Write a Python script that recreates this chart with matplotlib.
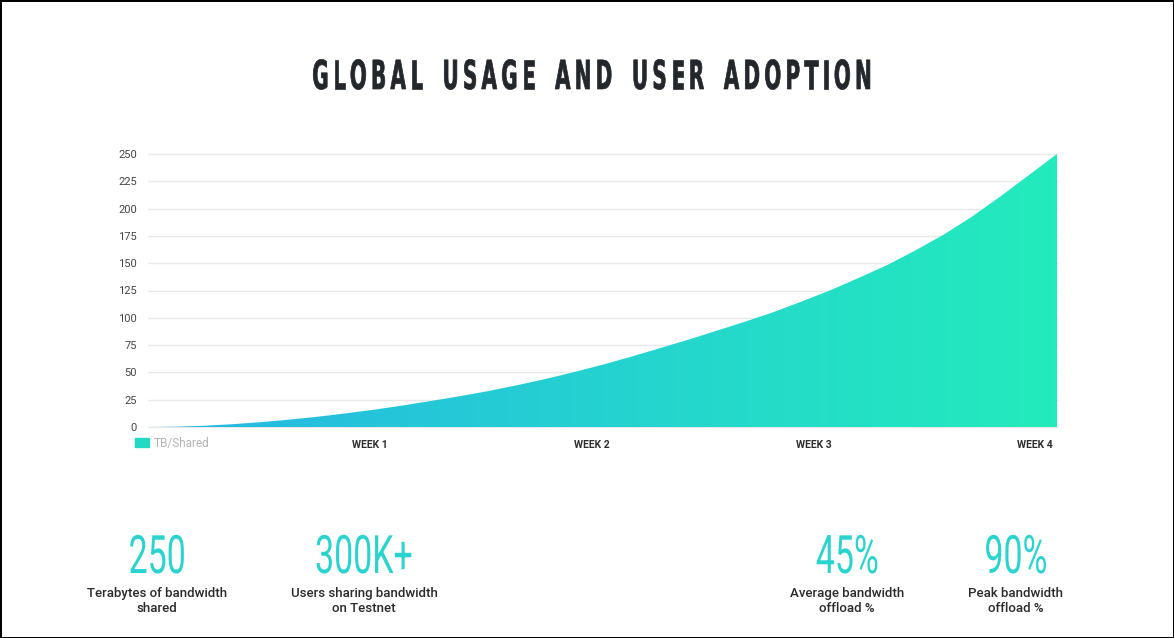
import numpy as np
import matplotlib
matplotlib.use('Agg')
import matplotlib.pyplot as plt
from matplotlib.colors import LinearSegmentedColormap
from matplotlib.patches import Patch, PathPatch
from matplotlib.textpath import TextPath, text_to_path
from matplotlib.font_manager import FontProperties
from matplotlib.transforms import Affine2D

### Data (eighth-week steps)
weeks = np.arange(0, 4.001, 0.125)
tbShared = [0, 0.3, 1.2, 2.6, 4.5, 6.8, 9.5, 12.6,
            16, 19.8, 24, 28.3, 33, 38.3, 44, 50.3,
            57, 64.3, 72, 79.8, 88, 96.3, 105, 114.8,
            125, 136.3, 148, 161.5, 176, 192.5, 211, 230.5,
            250]
weekTicks = [1, 2, 3, 4]
weekLabels = ['WEEK 1', 'WEEK 2', 'WEEK 3', 'WEEK 4']
yTicks = list(range(0, 251, 25))

titleText = 'GLOBAL USAGE AND USER ADOPTION'
statValues = ['250', '300K+', '45%', '90%']
statCaptions = ['Terabytes of bandwidth\nshared', 'Users sharing bandwidth\non Testnet',
                'Average bandwidth\noffload %', 'Peak bandwidth\noffload %']
statCentres = [157, 364, 847, 1016]   # pixel x of each stat block

teal = '#2bd3cf'
gradient = LinearSegmentedColormap.from_list('tb', ['#26b6e4', '#25d2d0', '#23ebbc'])

W, H = 1174, 638
fig = plt.figure(figsize=(W / 100, H / 100), dpi=100)
fig.patch.set_facecolor('white')
fig.patch.set_edgecolor('black')
fig.patch.set_linewidth(2)


def condensedText(text, centreX, baseY, size, squeeze, tracking, prop, colour, stroke=0):
    ### Draw text as squeezed glyph paths in pixel space, with extra letter spacing
    advances = []
    for ch in text:
        if ch == ' ':
            advances.append(size * 0.28)
        else:
            w, h, d = text_to_path.get_text_width_height_descent(ch, prop.copy(), ismath=False)
            advances.append(w * size / prop.get_size_in_points() * squeeze)
    total = sum(advances) + tracking * (len(text) - 1)
    x = centreX - total / 2
    for ch, adv in zip(text, advances):
        if ch != ' ':
            tp = TextPath((0, 0), ch, size=size, prop=prop)
            tr = Affine2D().scale(squeeze, 1).translate(x, baseY)
            fig.add_artist(PathPatch(tp, transform=tr, facecolor=colour,
                                     edgecolor=colour if stroke else 'none', linewidth=stroke))
        x += adv + tracking


ax = fig.add_axes([148 / W, 1 - 427 / H, 909 / W, 273 / H])

### Gradient area: imshow clipped by the filled area
area = ax.fill_between(weeks, 0, tbShared, facecolor='none', edgecolor='none')
img = ax.imshow(np.linspace(0, 1, 256).reshape(1, -1), cmap=gradient, aspect='auto',
                extent=[0, 4, 0, 250], zorder=2)
img.set_clip_path(area.get_paths()[0], transform=ax.transData)
ax.set_xlim(0, 4)
ax.set_ylim(0, 250)

### Grid and axes styling
ax.set_yticks(yTicks)
ax.set_yticklabels([str(v) for v in yTicks], fontdict={'family': 'Roboto', 'size': 8})
ax.tick_params(axis='y', length=0, pad=8, colors='#444444')
ax.set_xticks([])
ax.yaxis.grid(True, color='#e8e8e8', linewidth=1)
for line in ax.get_ygridlines():
    line.set_clip_on(False)
ax.set_axisbelow(True)
for spine in ax.spines.values():
    spine.set_visible(False)

### Week labels sit slightly left of the week positions in the original
for w, label in zip(weekTicks, weekLabels):
    ax.text(w * 0.976, -0.066, label, transform=ax.get_xaxis_transform(),
            ha='center', va='center', fontsize=7.5, color='#2e2e2e',
            family='Roboto', weight='bold')

ax.legend(handles=[Patch(color='#22d9c4', label='TB/Shared')], loc='upper left',
          bbox_to_anchor=(-0.014, -0.035), frameon=False, borderpad=0, borderaxespad=0,
          handlelength=1.2, handleheight=0.8, handletextpad=0.35,
          prop={'family': 'Roboto', 'size': 8.5}, labelcolor='#b3b3b3')

### Title: bold condensed, widely tracked
condensedText(titleText, 592, H - 89, 40, 0.5, 4.2,
              FontProperties(family='DejaVu Sans', weight='bold'), '#23272c', stroke=0.5)

### Stat blocks: thin condensed numbers built from text paths
numberProp = FontProperties(family='Roboto', weight='normal')
for value, caption, cx in zip(statValues, statCaptions, statCentres):
    tp = TextPath((0, 0), value, size=53, prop=numberProp)
    ext = tp.get_extents()
    tr = Affine2D().translate(-(ext.x0 + ext.x1) / 2, 0).scale(0.64, 1).translate(cx, H - 573)
    fig.add_artist(PathPatch(tp, transform=tr, facecolor=teal, edgecolor='none'))
    fig.text(cx / W, 1 - 601 / H, caption, ha='center', va='center', fontsize=9.5,
             color='#2a2a2a', family='Roboto', weight='medium', linespacing=1.25)

fig.savefig('out.png', dpi=100, facecolor=fig.get_facecolor(), edgecolor=fig.get_edgecolor())
